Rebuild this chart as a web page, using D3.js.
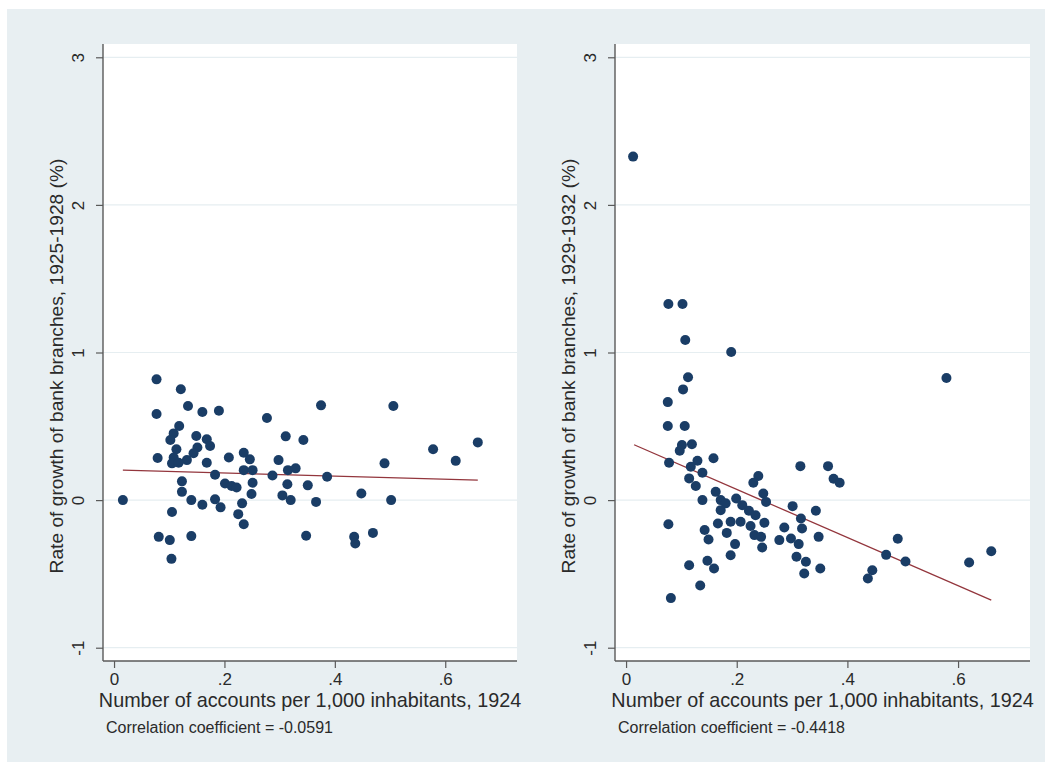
<!DOCTYPE html>
<html>
<head>
<meta charset="utf-8">
<script src="https://cdn.jsdelivr.net/npm/d3@7/dist/d3.min.js"></script>
<style>
  html, body { margin: 0; padding: 0; background: #ffffff; }
  svg { display: block; }
  text { font-family: "Liberation Sans", Arial, Helvetica, sans-serif; fill: #2a2a2a; }
</style>
</head>
<body>
<svg id="chart" width="1052" height="771"></svg>
<script>
// ---- data ----
const yTicks = [-1, 0, 1, 2, 3];
const yTickLabels = ["-1", "0", "1", "2", "3"];
const xTicks = [0, 0.2, 0.4, 0.6];
const xTickLabels = ["0", ".2", ".4", ".6"];

const xTitle = "Number of accounts per 1,000 inhabitants, 1924";
const leftYTitle = "Rate of growth of bank branches, 1925-1928 (%)";
const rightYTitle = "Rate of growth of bank branches, 1929-1932 (%)";
const leftNote = "Correlation coefficient = -0.0591";
const rightNote = "Correlation coefficient = -0.4418";

const leftX = [0.077,0.121,0.134,0.077,0.160,0.190,0.277,0.311,0.118,0.108,0.102,0.149,0.168,0.174,0.151,0.113,0.144,0.079,0.108,0.132,0.105,0.117,0.168,0.208,0.235,0.246,0.298,0.235,0.251,0.183,0.287,0.315,0.123,0.201,0.213,0.222,0.251,0.314,0.123,0.249,0.305,0.016,0.140,0.160,0.183,0.193,0.232,0.105,0.225,0.235,0.081,0.101,0.140,0.104,
  0.375,0.506,0.343,0.329,0.386,0.351,0.320,0.366,0.448,0.502,0.490,0.578,0.619,0.659,0.348,0.435,0.437,0.469];
const leftY = [0.818,0.751,0.637,0.583,0.597,0.605,0.556,0.432,0.502,0.452,0.407,0.434,0.412,0.366,0.357,0.344,0.317,0.285,0.289,0.271,0.249,0.253,0.253,0.289,0.321,0.276,0.271,0.203,0.203,0.172,0.167,0.203,0.127,0.113,0.095,0.086,0.117,0.108,0.056,0.041,0.032,0.000,0.000,-0.032,0.005,-0.049,-0.022,-0.081,-0.095,-0.163,-0.249,-0.271,-0.244,-0.398,
  0.642,0.637,0.407,0.215,0.158,0.100,0.000,-0.012,0.045,0.000,0.249,0.344,0.266,0.391,-0.242,-0.249,-0.294,-0.222];

const rightX = [0.0127,0.0765,0.102,0.107,0.190,0.112,0.103,0.0754,0.0754,0.106,0.101,0.119,0.097,0.0777,0.129,0.158,0.117,0.138,0.114,0.126,0.239,0.230,0.315,0.248,0.162,0.253,0.138,0.171,0.180,0.199,0.210,0.222,0.171,0.234,0.301,0.316,0.318,0.0765,0.166,0.189,0.207,0.225,0.250,0.286,0.142,0.149,0.182,0.232,0.244,0.277,0.298,0.312,0.197,0.246,0.189,0.308,0.325,0.322,0.114,0.147,0.159,0.134,0.081,
  0.579,0.365,0.375,0.386,0.343,0.348,0.351,0.491,0.470,0.505,0.445,0.437,0.620,0.660];
const rightY = [2.327,1.329,1.329,1.085,1.003,0.832,0.750,0.664,0.502,0.502,0.373,0.378,0.334,0.253,0.267,0.283,0.226,0.185,0.147,0.095,0.163,0.117,0.230,0.045,0.056,-0.012,0.000,0.000,-0.022,0.011,-0.034,-0.072,-0.068,-0.102,-0.041,-0.124,-0.192,-0.163,-0.158,-0.147,-0.147,-0.176,-0.154,-0.185,-0.203,-0.267,-0.222,-0.237,-0.249,-0.271,-0.260,-0.298,-0.298,-0.321,-0.373,-0.384,-0.418,-0.497,-0.441,-0.411,-0.463,-0.578,-0.664,
  0.827,0.230,0.145,0.117,-0.072,-0.249,-0.463,-0.262,-0.371,-0.416,-0.475,-0.531,-0.423,-0.346];

const leftFitX = [0.016, 0.659];
const leftFitY = [0.203, 0.136];
const rightFitX = [0.0145, 0.660];
const rightFitY = [0.375, -0.677];

// ---- layout ----
const svg = d3.select("#chart");
const W = 1052, H = 771;
const C = {
  bg: "#e8eff2", plot: "#ffffff", grid: "#e6eef1",
  axis: "#5a5a5a", marker: "#1a3d66", fit: "#93363d"
};

svg.append("rect").attr("x", 7).attr("y", 9).attr("width", W - 14).attr("height", H - 18).attr("fill", C.bg);

const panels = [
  { x0: 103, x1: 517, xs: leftX, ys: leftY, fx: leftFitX, fy: leftFitY, yTitle: leftYTitle, note: leftNote },
  { x0: 615, x1: 1030, xs: rightX, ys: rightY, fx: rightFitX, fy: rightFitY, yTitle: rightYTitle, note: rightNote }
];
const yTop = 44, yBot = 661;

panels.forEach(p => {
  const x = d3.scaleLinear().domain([-0.02, 0.73]).range([p.x0, p.x1]);
  const y = d3.scaleLinear().domain([-1.09, 3.09]).range([yBot, yTop]);
  const g = svg.append("g");

  g.append("rect").attr("x", p.x0).attr("y", yTop).attr("width", p.x1 - p.x0).attr("height", yBot - yTop).attr("fill", C.plot);

  // gridlines
  g.append("g").selectAll("line").data(yTicks).join("line")
    .attr("x1", p.x0).attr("x2", p.x1)
    .attr("y1", d => y(d)).attr("y2", d => y(d))
    .attr("stroke", C.grid).attr("stroke-width", 1.2);

  // fit line
  g.append("line")
    .attr("x1", x(p.fx[0])).attr("y1", y(p.fy[0]))
    .attr("x2", x(p.fx[1])).attr("y2", y(p.fy[1]))
    .attr("stroke", C.fit).attr("stroke-width", 1.3);

  // points
  g.append("g").selectAll("circle").data(p.xs.map((d, i) => [d, p.ys[i]])).join("circle")
    .attr("cx", d => x(d[0])).attr("cy", d => y(d[1])).attr("r", 5)
    .attr("fill", C.marker);

  // axes
  const yAxis = d3.axisLeft(y).tickValues(yTicks).tickFormat((d, i) => yTickLabels[i]).tickSize(7).tickPadding(4);
  const ya = g.append("g").attr("transform", `translate(${p.x0},0)`).call(yAxis);
  ya.select(".domain").attr("d", `M0,${yTop}V${yBot}`).attr("stroke", C.axis).attr("stroke-width", 1.4);
  ya.selectAll(".tick line").attr("stroke", C.axis).attr("stroke-width", 1.2);
  ya.selectAll(".tick text")
    .attr("font-size", 17).attr("fill", "#2a2a2a")
    .attr("text-anchor", "middle").attr("dy", null)
    .attr("x", null)
    .attr("transform", "translate(-19,0) rotate(-90)")
    .attr("dominant-baseline", "auto");

  const xAxis = d3.axisBottom(x).tickValues(xTicks).tickFormat((d, i) => xTickLabels[i]).tickSize(7).tickPadding(4);
  const xa = g.append("g").attr("transform", `translate(0,${yBot})`).call(xAxis);
  xa.select(".domain").attr("d", `M${p.x0},0H${p.x1}`).attr("stroke", C.axis).attr("stroke-width", 1.4);
  xa.selectAll(".tick text").attr("font-size", 17).attr("fill", "#2a2a2a").attr("dy", null).attr("y", 24);
  xa.selectAll(".tick line").attr("stroke", C.axis).attr("stroke-width", 1.2);

  // titles
  g.append("text").attr("x", (p.x0 + p.x1) / 2).attr("y", 707)
    .attr("text-anchor", "middle").attr("font-size", 19.8).text(xTitle);
  g.append("text")
    .attr("transform", `translate(${p.x0 - 40},366) rotate(-90)`)
    .attr("text-anchor", "middle").attr("font-size", 19.2).text(p.yTitle);
  g.append("text").attr("x", p.x0 + 3).attr("y", 733)
    .attr("font-size", 16).text(p.note);
});
</script>
</body>
</html>
